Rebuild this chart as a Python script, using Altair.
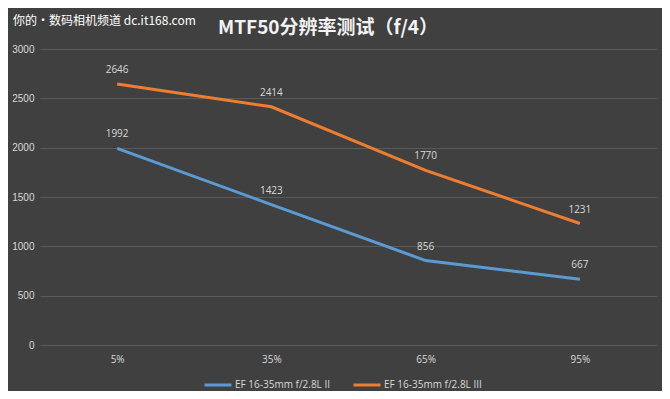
import altair as alt
import pandas as pd

categories = ["5%", "35%", "65%", "95%"]
series_names = ["EF 16-35mm f/2.8L II", "EF 16-35mm f/2.8L III"]
values_ii = [1992, 1423, 856, 667]
values_iii = [2646, 2414, 1770, 1231]
colors = ["#5B9BD5", "#ED7D31"]
title_text = "MTF50分辨率测试（f/4）"
watermark_text = "你的•数码相机频道 dc.it168.com"

rows = []
for name, vals in zip(series_names, [values_ii, values_iii]):
    for c, v in zip(categories, vals):
        rows.append({"cat": c, "series": name, "value": v})
df = pd.DataFrame(rows)

x_enc = alt.X("cat:O", sort=categories, title=None,
              scale=alt.Scale(padding=0.5),
              axis=alt.Axis(labelAngle=0, ticks=False, domain=False, grid=False,
                            labelColor="#d9d9d9", labelFontSize=10, labelPadding=9,
                            labelFont="Open Sans"))
y_enc = alt.Y("value:Q", title=None,
              scale=alt.Scale(domain=[0, 3000], nice=False),
              axis=alt.Axis(values=[0, 500, 1000, 1500, 2000, 2500, 3000],
                            format="d",
                            ticks=False, domain=False, gridColor="#5a5a5a",
                            gridWidth=1, labelColor="#d9d9d9", labelFontSize=10,
                            labelPadding=6, labelFont="Liberation Sans"))
color_enc = alt.Color("series:N", sort=series_names,
                      scale=alt.Scale(domain=series_names, range=colors),
                      legend=alt.Legend(title=None, orient="none", direction="horizontal",
                                        legendX=163, legendY=321,
                                        symbolType="stroke", symbolSize=729,
                                        symbolStrokeWidth=3, labelColor="#d9d9d9",
                                        labelFontSize=10, labelFont="Open Sans",
                                        columnPadding=16, labelOffset=2))

base = alt.Chart(df)
lines = base.mark_line(strokeWidth=3).encode(x=x_enc, y=y_enc, color=color_enc)
labels = base.mark_text(dy=-9, fontSize=10, color="#d9d9d9", font="Open Sans",
                        baseline="bottom").encode(
    x=alt.X("cat:O", sort=categories), y="value:Q", text="value:Q")

wm = alt.Chart(pd.DataFrame({"t": [watermark_text]})).mark_text(
    align="left", baseline="middle", fontSize=12, color="#ffffff",
    font="Noto Sans CJK SC").encode(
    x=alt.value(-27), y=alt.value(-28), text="t:N")

ttl = alt.Chart(pd.DataFrame({"t": [title_text]})).mark_text(
    align="center", baseline="alphabetic", fontSize=19, fontWeight="bold",
    color="#f2f2f2", font="Noto Sans CJK SC").encode(
    x=alt.value(288), y=alt.value(-15), text="t:N")

chart = alt.layer(lines, labels, wm, ttl).properties(
    width=617, height=296,
    autosize=alt.AutoSizeParams(type="none"),
    padding={"left": 32, "top": 41, "right": 5, "bottom": 46},
    background="#404040",
).configure_view(stroke=None)

chart.save("out.html", embed_options={"renderer": "svg", "actions": False})
